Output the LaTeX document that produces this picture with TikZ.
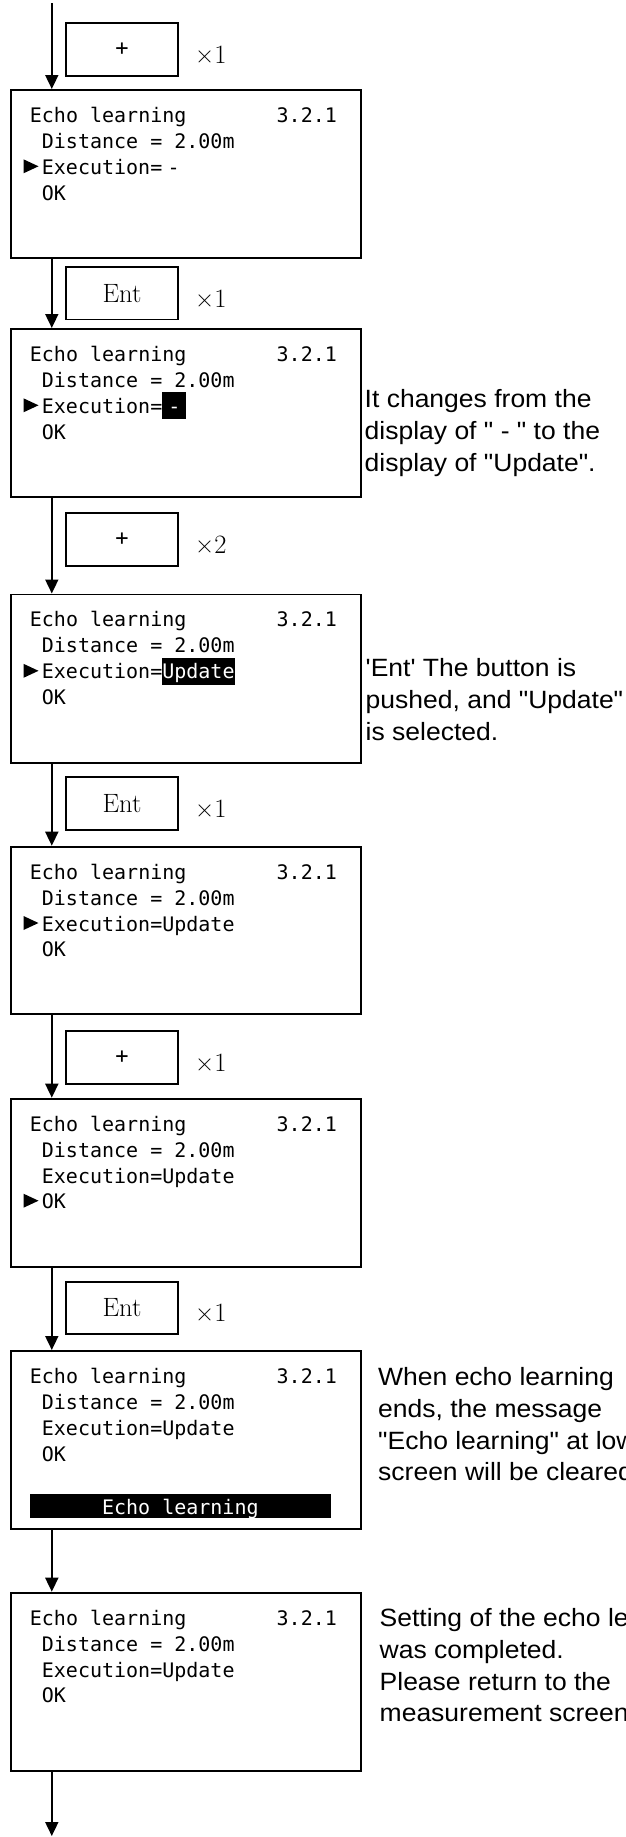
\documentclass[tikz,border=0pt]{standalone}
\usepackage{fontspec}
\usetikzlibrary{arrows.meta}
\newfontfamily\lcdff{DejaVu Sans Mono}
\newfontfamily\noteff[FakeStretch=1.06]{Liberation Sans}
\newcommand\lcdfont{\lcdff\fontsize{20}{26}\selectfont}
\newcommand\notefont{\noteff\fontsize{25}{31.7}\selectfont}
\newcommand\keyfont{\fontsize{26.5}{30}\selectfont}
\newcommand\plusfont{\lcdff\fontsize{22}{26}\selectfont}
% screen: name, top, height
\newcommand\lcdbox[3]{%
  \node[screen, minimum height=#3pt] (#1) at (10.2,#2) {};
  \node[lcd] (#1-a) at (29.7,#2+33.3) {Echo learning};
  \node[lcd] (#1-b) at (276.5,#2+33.3) {3.2.1};
  \node[lcd] (#1-c) at (41.7,#2+59.3) {Distance = 2.00m};
  \node[lcd] (#1-e) at (41.7,#2+111) {OK};
}
\newcommand\cursorat[1]{\fill (23.5,#1-15) -- (23.5,#1-1) -- (38.5,#1-8) -- cycle;}
\begin{document}
\begin{tikzpicture}[x=1pt,y=-1pt,
  screen/.style={draw, line width=1.8pt, minimum width=349.6pt, inner sep=0pt, anchor=north west},
  key/.style={draw, line width=1.8pt, minimum width=112pt, minimum height=52.5pt, inner sep=0pt},
  lcd/.style={font=\lcdfont, inner sep=0pt, anchor=base west},
  hl/.style={lcd, fill=black, text=white, text height=21pt, text depth=5.7pt},
  times/.style={font=\keyfont, inner sep=0pt, anchor=base west},
  note/.style={font=\notefont, inner sep=0pt, anchor=base west, align=left},
  flow/.style={line width=1.8pt, -{Triangle[width=13pt,length=14pt]}}]
\frenchspacing
\useasboundingbox (0,0) rectangle (626,1837);

% key presses
\node[key, font=\plusfont] (k1) at (122,49.5) {+};
\node[times] (m1) at (195,63.5) {×1};
\node[key, font=\keyfont] (k2) at (122,293.3) {Ent};
\node[times] (m2) at (195,307.3) {×1};
\node[key, font=\plusfont] (k3) at (122,539.5) {+};
\node[times] (m3) at (195,553.5) {×2};
\node[key, font=\keyfont] (k4) at (122,803.6) {Ent};
\node[times] (m4) at (195,817.6) {×1};
\node[key, font=\plusfont] (k5) at (122,1057.5) {+};
\node[times] (m5) at (195,1071.5) {×1};
\node[key, font=\keyfont] (k6) at (122,1307.9) {Ent};
\node[times] (m6) at (195,1321.9) {×1};

% screen 1
\lcdbox{s1}{89}{168}
\node[lcd] (s1-d) at (41.7,174.3) {Execution=};
\node[lcd, anchor=base] (s1-v) at (173.7,174.3) {-};
\cursorat{174.3}

% screen 2
\lcdbox{s2}{328}{168}
\node[lcd] (s2-d) at (41.7,413.3) {Execution=};
\node[hl, minimum width=24.1pt] (s2-v) at (162.1,413.3) {-};
\cursorat{413.3}

% screen 3
\lcdbox{s3}{593.5}{168.5}
\node[lcd] (s3-d) at (41.7,678.8) {Execution=};
\node[hl] (s3-v) at (162.1,678.8) {Update};
\cursorat{678.8}

% screen 4
\lcdbox{s4}{845.7}{167.6}
\node[lcd] (s4-d) at (41.7,931) {Execution=Update};
\cursorat{931}

% screen 5
\lcdbox{s5}{1097.7}{168}
\node[lcd] (s5-d) at (41.7,1183) {Execution=Update};
\cursorat{1208.7}

% screen 6
\lcdbox{s6}{1350}{178.3}
\node[lcd] (s6-d) at (41.7,1435.3) {Execution=Update};
\node[lcd, anchor=base, fill=black, text=white, minimum width=300.7pt, text height=20.2pt, text depth=3.2pt] (s6-msg) at (180.35,1514.5) {Echo learning};

% screen 7
\lcdbox{s7}{1591.7}{178.3}
\node[lcd] (s7-d) at (41.7,1677) {Execution=Update};

% notes (anchored at the baseline of their last line)
\node[note] (n1) at (364.5,471.1) {It changes from the\\display of " - " to the\\display of "Update".};
\node[note] (n2) at (365.5,740.1) {'Ent' The button is\\pushed, and "Update"\\is selected.};
\node[note] (n3) at (378,1480.8) {When echo learning\\ends, the message\\"Echo learning" at lower\\screen will be cleared.};
\node[note] (n4) at (379.5,1721.8) {Setting of the echo learning\\was completed.\\Please return to the\\measurement screen.};

% flow
\coordinate (start) at (51.8,3);
\coordinate (finish) at (51.8,1836);
\draw[flow] (start) -- ([xshift=41.6pt]s1.north west);
\draw[flow] ([xshift=41.6pt]s1.south west) -- ([xshift=41.6pt]s2.north west);
\draw[flow] ([xshift=41.6pt]s2.south west) -- ([xshift=41.6pt]s3.north west);
\draw[flow] ([xshift=41.6pt]s3.south west) -- ([xshift=41.6pt]s4.north west);
\draw[flow] ([xshift=41.6pt]s4.south west) -- ([xshift=41.6pt]s5.north west);
\draw[flow] ([xshift=41.6pt]s5.south west) -- ([xshift=41.6pt]s6.north west);
\draw[flow] ([xshift=41.6pt]s6.south west) -- ([xshift=41.6pt]s7.north west);
\draw[flow] ([xshift=41.6pt]s7.south west) -- (finish);
\end{tikzpicture}
\end{document}
